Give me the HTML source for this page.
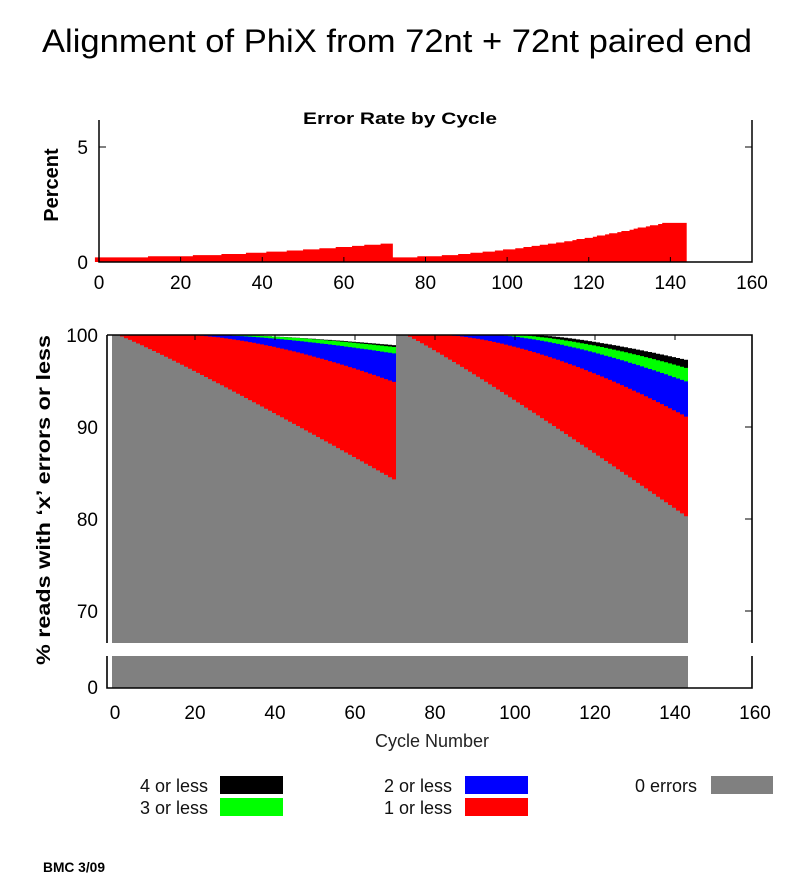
<!DOCTYPE html>
<html><head><meta charset="utf-8"><style>
html,body{margin:0;padding:0;background:#fff}
svg{display:block}
text{font-family:"Liberation Sans",sans-serif}
</style></head><body>
<svg id="s" width="790" height="884" viewBox="0 0 790 884" xmlns="http://www.w3.org/2000/svg">
<text x="42" y="52" font-size="32" fill="#000" textLength="710" lengthAdjust="spacingAndGlyphs">Alignment of PhiX from 72nt + 72nt paired end</text>
<text x="400" y="124" font-size="17" font-weight="bold" text-anchor="middle" textLength="194" lengthAdjust="spacingAndGlyphs">Error Rate by Cycle</text>
<text transform="translate(58,185) rotate(-90)" font-size="20" font-weight="bold" text-anchor="middle">Percent</text>
<text transform="translate(50,500) rotate(-90)" font-size="19" font-weight="bold" text-anchor="middle" textLength="330" lengthAdjust="spacingAndGlyphs">% reads with ‘x’ errors or less</text>
<g id="top"></g>
<g id="bot"></g>
<text x="432" y="747" font-size="18" text-anchor="middle" fill="#222">Cycle Number</text>
<g font-size="18" fill="#111">
<text x="208" y="792" text-anchor="end">4 or less</text>
<text x="208" y="814" text-anchor="end">3 or less</text>
<text x="452" y="792" text-anchor="end">2 or less</text>
<text x="452" y="814" text-anchor="end">1 or less</text>
<text x="697" y="792" text-anchor="end">0 errors</text>
</g>
<rect x="220" y="776" width="63" height="18" fill="#000"/>
<rect x="220" y="798" width="63" height="18" fill="#00ff00"/>
<rect x="465" y="776" width="63" height="18" fill="#0000ff"/>
<rect x="465" y="798" width="63" height="18" fill="#ff0000"/>
<rect x="711" y="776" width="62" height="18" fill="#808080"/>
<text x="43" y="872" font-size="14" font-weight="bold" textLength="62" lengthAdjust="spacingAndGlyphs">BMC 3/09</text>
</svg>
<script>
var NS="http://www.w3.org/2000/svg";
function el(p,t,a){var e=document.createElementNS(NS,t);for(var k in a)e.setAttribute(k,a[k]);p.appendChild(e);return e;}
var T=document.getElementById("top");
function tx(c){return 99+c*(752-99)/160;}
function ty(v){return 262-v*23;}
var pts=[];
for(var c=-1;c<144;c++){
 var v;
 if(c<72){v=0.2+0.6*Math.pow(Math.max(c,0)/70,1.8);}
 else{var f=(c-72)/66;v=0.2+1.5*Math.pow(Math.min(f,1),1.7);}
 v=Math.round(v*20)/20;
 pts.push([tx(c),ty(v)],[tx(c+1),ty(v)]);
}
var d="M"+tx(-1)+","+ty(0);pts.forEach(function(p){d+="L"+p[0]+","+p[1];});d+="L"+tx(144)+","+ty(0)+"Z";
el(T,"path",{d:d,fill:"#ff0000"});
el(T,"path",{d:"M99,120V262H752V120",fill:"none",stroke:"#000","stroke-width":1.5});
[0,5].forEach(function(v){el(T,"line",{x1:99,x2:106,y1:ty(v),y2:ty(v),stroke:"#000"});el(T,"line",{x1:745,x2:752,y1:ty(v),y2:ty(v),stroke:"#000"});
 var t=el(T,"text",{x:88,y:ty(v)+7,"font-size":19,"text-anchor":"end"});t.textContent=v;});
for(var c=0;c<=160;c+=20){var t=el(T,"text",{x:tx(c),y:289,"font-size":19,"text-anchor":"middle"});t.textContent=c;
 if(c>0&&c<160)el(T,"line",{x1:tx(c),x2:tx(c),y1:262,y2:257,stroke:"#000"});}
var B=document.getElementById("bot");
function bx(c){return 112+c*4;}
function by(v){return 335+(100-v)*9.2;}
function g(t,s,e){return Math.max(0,Math.min(1,(t-s)/(e-s)));}
function read(t,off,L,P){
 var u=t-off;
 return [
  100-P[0]*Math.pow(g(u,P[5],L),1.4),
  100-P[1]*Math.pow(g(u,P[6],L),1.5),
  100-P[2]*Math.pow(g(u,P[7],L),1.5),
  100-P[3]*Math.pow(g(u,P[8],L),1.6),
  100-P[4]*Math.pow(g(u,1,L),1.08)
 ];
}
var P1=[1.1,1.3,2.0,5.1,15.7,30,30,25,18];
var P2=[2.8,3.7,5.2,9.1,20,33,28,23,10];
var cols=["#000","#00ff00","#0000ff","#ff0000","#808080"];
var series=[[],[],[],[],[]];
for(var c=0;c<=143;c++){
 var vals=c<=70?read(c,0,70,P1):read(c,72,72,P2);
 if(c==71)vals=read(72,72,72,P2);
 for(var i=0;i<5;i++)series[i].push([c,vals[i]]);
}
for(var i=0;i<5;i++){
 var dd="M"+bx(0)+","+688;
 series[i].forEach(function(p){dd+="L"+bx(p[0])+","+by(p[1]).toFixed(1)+"L"+bx(p[0]+1)+","+by(p[1]).toFixed(1);});
 dd+="L"+bx(144)+",688Z";
 el(B,"path",{d:dd,fill:cols[i]});
}
el(B,"rect",{x:112,y:331,width:576,height:4,fill:"#fff"});
el(B,"path",{d:"M107,335H752V643M752,656V688H107V656M107,643V335",fill:"none",stroke:"#000","stroke-width":1.6});
el(B,"rect",{x:100,y:643,width:660,height:13,fill:"#fff"});
[100,90,80,70].forEach(function(v){var y=by(v);
 el(B,"line",{x1:745,x2:752,y1:y,y2:y,stroke:"#000"});
 var t=el(B,"text",{x:98,y:y+7,"font-size":19,"text-anchor":"end"});t.textContent=v;});
var t0=el(B,"text",{x:98,y:694,"font-size":19,"text-anchor":"end"});t0.textContent="0";
for(var c=0;c<=160;c+=20){var t=el(B,"text",{x:bx(c)+3,y:719,"font-size":19,"text-anchor":"middle"});t.textContent=c;
 if(c>0&&c<160)el(B,"line",{x1:bx(c)+3,x2:bx(c)+3,y1:335,y2:340,stroke:"#000"});}
</script>
</body></html>
